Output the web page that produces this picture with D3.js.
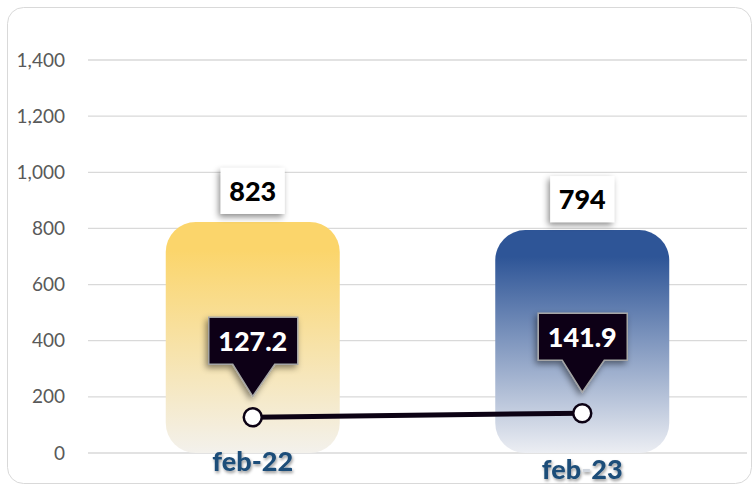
<!DOCTYPE html>
<html>
<head>
<meta charset="utf-8">
<script src="https://cdn.jsdelivr.net/npm/d3@7"></script>
<style>
    body { margin: 0; background: #fff; }
    text { font-family: Lato, "Open Sans", sans-serif; }
</style>
</head>
<body>
<div id="chart"></div>
<script>
// chart data
const categories = ["feb-22", "feb-23"];
const barValues = [823, 794];
const lineValues = [127.2, 141.9];
const yTicks = [0, 200, 400, 600, 800, 1000, 1200, 1400];

const W = 755, H = 487;
const margin = { top: 60, right: 8, bottom: 34, left: 88 };

const svg = d3.select("#chart")
    .append("svg")
    .attr("width", W)
    .attr("height", H);

const defs = svg.append("defs");

// bar gradients
const gradColors = [
    ["#fbd56b", "#f3f1ec"],
    ["#2e5597", "#eceef3"]
];
gradColors.forEach((c, i) => {
    const g = defs.append("linearGradient")
        .attr("id", "grad" + i)
        .attr("x1", 0).attr("y1", 0).attr("x2", 0).attr("y2", 1);
    g.append("stop").attr("offset", "0").attr("stop-color", c[0]);
    g.append("stop").attr("offset", "0.12").attr("stop-color", c[0]);
    g.append("stop").attr("offset", "1").attr("stop-color", c[1]);
});

const shadow = defs.append("filter").attr("id", "shadow")
    .attr("x", "-30%").attr("y", "-30%").attr("width", "160%").attr("height", "160%");
shadow.append("feDropShadow")
    .attr("dx", -2).attr("dy", 3).attr("stdDeviation", 3)
    .attr("flood-color", "#000").attr("flood-opacity", 0.45);

const textShadow = defs.append("filter").attr("id", "tshadow");
textShadow.append("feDropShadow")
    .attr("dx", 1).attr("dy", 2).attr("stdDeviation", 1.5)
    .attr("flood-color", "#000").attr("flood-opacity", 0.4);

// outer frame
svg.append("rect")
    .attr("x", 7.5).attr("y", 7.5)
    .attr("width", W - 11).attr("height", H - 11)
    .attr("rx", 16)
    .attr("fill", "#fff")
    .attr("stroke", "#d9d9d9");

const x = d3.scaleBand()
    .domain(categories)
    .range([margin.left, W - margin.right]);

const y = d3.scaleLinear()
    .domain([0, 1400])
    .range([H - margin.bottom, margin.top]);

// gridlines
svg.append("g")
    .selectAll("line")
    .data(yTicks)
    .join("line")
    .attr("x1", margin.left)
    .attr("x2", W - margin.right)
    .attr("y1", d => y(d))
    .attr("y2", d => y(d))
    .attr("stroke", "#d9d9d9")
    .attr("stroke-width", 1.3);

// y axis labels
const yAxis = d3.axisLeft(y)
    .tickValues(yTicks)
    .tickSize(0)
    .tickPadding(0)
    .tickFormat(d3.format(","));

svg.append("g")
    .attr("transform", `translate(65, 0)`)
    .call(yAxis)
    .call(g => g.select(".domain").remove())
    .selectAll("text")
    .attr("fill", "#595959")
    .style("font-size", "19px")
    .style("font-family", "Lato, sans-serif");

// bars
const barW = 174;
svg.append("g")
    .selectAll("rect")
    .data(barValues)
    .join("rect")
    .attr("x", (d, i) => x(categories[i]) + x.bandwidth() / 2 - barW / 2)
    .attr("y", d => y(d))
    .attr("width", barW)
    .attr("height", d => y(0) - y(d))
    .attr("rx", 30)
    .attr("fill", (d, i) => `url(#grad${i})`);

// bar value labels
const valG = svg.append("g")
    .selectAll("g")
    .data(barValues)
    .join("g")
    .attr("transform", (d, i) => `translate(${x(categories[i]) + x.bandwidth() / 2}, ${y(d) - 8})`);

valG.append("rect")
    .attr("x", -32).attr("y", -46)
    .attr("width", 64).attr("height", 46)
    .attr("fill", "#fff")
    .attr("filter", "url(#shadow)");

valG.append("text")
    .attr("y", -13)
    .attr("text-anchor", "middle")
    .style("font-size", "27px")
    .style("font-weight", "900")
    .attr("fill", "#000")
    .text(d => d);

// line series
const cx = (d, i) => x(categories[i]) + x.bandwidth() / 2;
const line = d3.line()
    .x((d, i) => cx(d, i))
    .y(d => y(d));

svg.append("path")
    .datum(lineValues)
    .attr("d", line)
    .attr("fill", "none")
    .attr("stroke", "#0c0214")
    .attr("stroke-width", 5);

svg.append("g")
    .selectAll("circle")
    .data(lineValues)
    .join("circle")
    .attr("cx", cx)
    .attr("cy", d => y(d))
    .attr("r", 9)
    .attr("fill", "#fff")
    .attr("stroke", "#0c0214")
    .attr("stroke-width", 2.5);

// callouts
const callout = svg.append("g")
    .selectAll("g")
    .data(lineValues)
    .join("g")
    .attr("transform", (d, i) => `translate(${cx(d, i)}, ${y(d) - 21})`);

callout.append("path")
    .attr("d", "M0,0 L-20,-32 L-44,-32 L-44,-79 L45,-79 L45,-32 L22,-32 Z")
    .attr("fill", "#0c0214")
    .attr("stroke", "#a6a6a6")
    .attr("stroke-width", 1.5)
    .attr("filter", "url(#shadow)");

callout.append("text")
    .attr("y", -45)
    .attr("text-anchor", "middle")
    .attr("fill", "#fff")
    .style("font-size", "27px")
    .style("font-weight", "900")
    .text(d => d.toFixed(1));

// x labels
const labelDy = [18, 26];
svg.append("g")
    .selectAll("text")
    .data(categories)
    .join("text")
    .attr("x", d => x(d) + x.bandwidth() / 2)
    .attr("y", (d, i) => y(0) + labelDy[i])
    .attr("text-anchor", "middle")
    .attr("fill", "#1f4e79")
    .style("font-size", "27px")
    .style("font-weight", "900")
    .attr("filter", "url(#tshadow)")
    .each(function(d, i) {
        const parts = d.split("-");
        const t = d3.select(this);
        t.append("tspan").text(parts[0]);
        t.append("tspan").attr("fill", i === 1 ? "#d0d6de" : "#1f4e79").text("-");
        t.append("tspan").text(parts[1]);
    });
</script>
</body>
</html>
